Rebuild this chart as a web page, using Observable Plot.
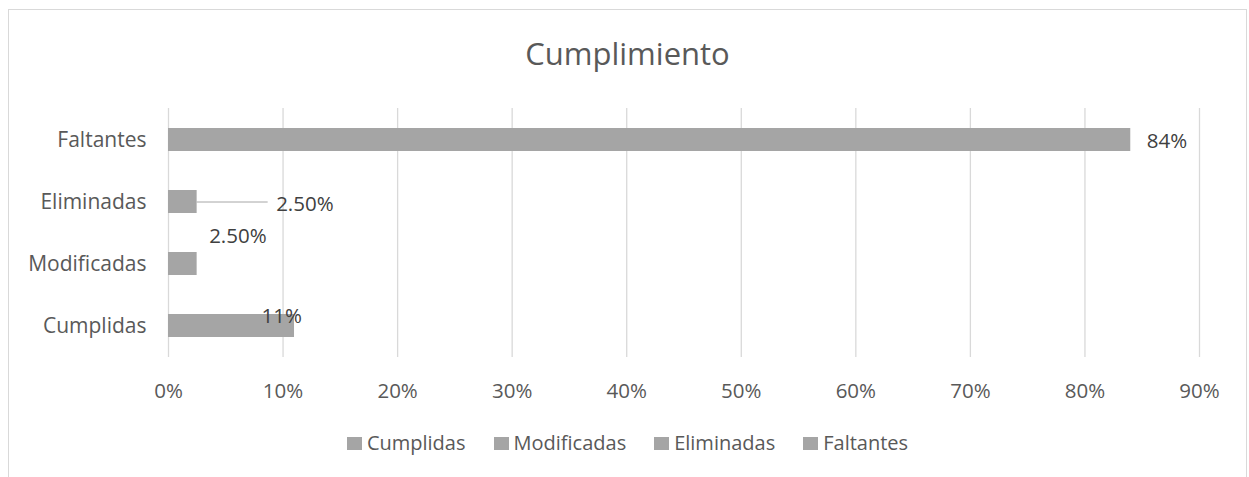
<!DOCTYPE html>
<html>
<head>
<meta charset="utf-8">
<script src="https://cdn.jsdelivr.net/npm/d3@7"></script>
<script src="https://cdn.jsdelivr.net/npm/@observablehq/plot@0.6"></script>
<style>
  html, body { margin: 0; padding: 0; background: #fff; }
  #page { position: relative; width: 1249px; height: 477px; overflow: hidden; font-family: 'Open Sans', sans-serif; }
  #frame { position: absolute; left: 8px; top: 9px; width: 1237px; height: 520px; border: 1px solid #d9d9d9; box-sizing: content-box; pointer-events: none; }
  #title { position: relative; padding-top: 33px; height: 40px; line-height: 40px; font-size: 31px; color: #595959; text-align: center; margin-left: 8px; width: 1239px; }
  #chart { position: relative; height: 358px; }
  #chart svg { display: block; }
  #legend { position: relative; margin-left: 8px; width: 1239px; height: 24px; line-height: 24px; font-size: 20px; color: #595959; display: flex; justify-content: center; }
  #legend .item { display: flex; align-items: center; margin: 0 14px; }
  #legend .sw { width: 15px; height: 13px; background: #a5a5a5; margin-right: 5px; }
</style>
</head>
<body>
<div id="page">
  <div id="frame"></div>
  <div id="title">Cumplimiento</div>
  <div id="chart"></div>
  <div id="legend"></div>
</div>
<script>
const categories = ["Cumplidas", "Modificadas", "Eliminadas", "Faltantes"];
const values = [0.11, 0.025, 0.025, 0.84];
const valueLabels = ["11%", "2.50%", "2.50%", "84%"];
const xTicks = [0, 0.1, 0.2, 0.3, 0.4, 0.5, 0.6, 0.7, 0.8, 0.9];

const data = categories.map((c, i) => ({cat: c, value: values[i], label: valueLabels[i]}));
const pick = c => data.filter(d => d.cat === c);

const barColor = "#a5a5a5";
const labelColor = "#404040";

const chart = Plot.plot({
  width: 1249,
  height: 358,
  marginLeft: 168,
  marginRight: 50,
  marginTop: 35,
  marginBottom: 74,
  style: {fontFamily: "'Open Sans', sans-serif", fontSize: "20.5px", color: "#595959", background: "transparent"},
  x: {domain: [0, 0.9]},
  y: {domain: categories.slice().reverse(), paddingInner: 0.63, paddingOuter: 0.315},
  marks: [
    Plot.ruleX(xTicks, {stroke: "#d9d9d9", strokeWidth: 1.3}),
    Plot.barX(data, {x: "value", y: "cat", fill: barColor}),
    Plot.axisX(xTicks, {tickSize: 0, tickPadding: 26, tickFormat: d3.format(".0%"), label: null, fill: "#595959"}),
    Plot.axisY({tickSize: 0, tickPadding: 22, label: null, fill: "#595959", fontSize: 21}),
    // leader line for Eliminadas label
    Plot.ruleY(pick("Eliminadas"), {y: "cat", x1: "value", x2: d => d.value + 0.062, stroke: "#a6a6a6", strokeWidth: 1}),
    Plot.text(pick("Faltantes"), {x: "value", y: "cat", text: "label", textAnchor: "start", dx: 16, dy: 1, fill: labelColor}),
    Plot.text(pick("Eliminadas"), {x: "value", y: "cat", text: "label", textAnchor: "start", dx: 79, dy: 2, fill: labelColor}),
    Plot.text(pick("Modificadas"), {x: "value", y: "cat", text: "label", textAnchor: "start", dx: 12, dy: -28, fill: labelColor}),
    Plot.text(pick("Cumplidas"), {x: "value", y: "cat", text: "label", textAnchor: "start", dx: -33, dy: -10, fill: labelColor})
  ]
});
document.getElementById("chart").appendChild(chart);

const legend = document.getElementById("legend");
categories.forEach(c => {
  const item = document.createElement("div");
  item.className = "item";
  const sw = document.createElement("div");
  sw.className = "sw";
  const t = document.createElement("span");
  t.textContent = c;
  item.appendChild(sw);
  item.appendChild(t);
  legend.appendChild(item);
});
</script>
</body>
</html>
